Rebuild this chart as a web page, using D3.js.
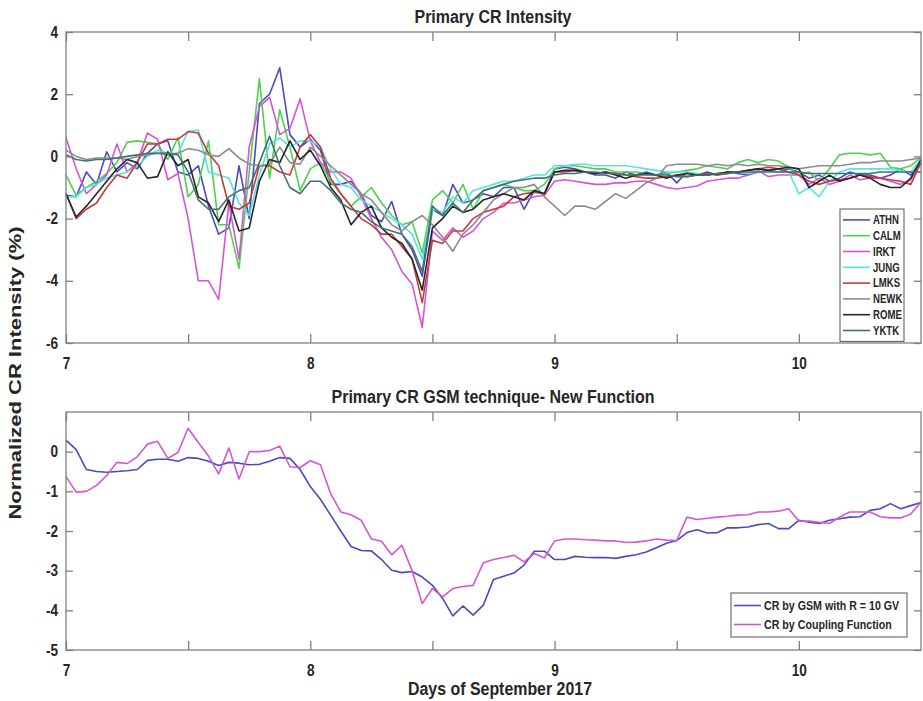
<!DOCTYPE html>
<html>
<head>
<meta charset="utf-8">
<script src="https://d3js.org/d3.v7.min.js"></script>
<style>
  body { margin: 0; background: #fff; }
  text { font-family: "Liberation Sans", Arial, sans-serif; font-weight: bold; fill: #262626; }
</style>
</head>
<body>
<div id="chart"></div>
<script>
// hourly samples, 7 Sep 00 UT to 10 Sep 12 UT
var startDay = 7;
var xTicks = [7, 7.5, 8, 8.5, 9, 9.5, 10];
var xLabels = [7, 8, 9, 10];
var topYTicks = [-6, -4, -2, 0, 2, 4];
var botYTicks = [-5, -4, -3, -2, -1, 0];

var stations = ["ATHN", "CALM", "IRKT", "JUNG", "LMKS", "NEWK", "ROME", "YKTK"];
var stationColors = ["#4b4bbd", "#4fd24f", "#d556d5", "#55e3e3", "#c93a3a", "#8c8c8c", "#262626", "#3f7370"];

var athn = [-1.25, -1.3, -0.5, -0.9, 0.15, -0.5, -0.2, -0.4, 0.1, 0.4, 0.5, -0.5, -0.6,
  -0.3, -1.6, -2.5, -2.3, -0.3, -2.0, 1.7, 2.0, 2.85, 0.7, 0.3, 0.55,
  0.2, -0.9, -0.9, -0.8, -1.2, -1.9, -2.1, -1.45, -2.5, -3.0, -3.85, -1.7,
  -1.9, -0.9, -1.5, -1.4, -1.2, -1.3, -1.0, -1.0, -1.7, -1.1, -1.2, -0.4,
  -0.35, -0.4, -0.5, -0.6, -0.6, -0.7, -0.5, -0.6, -0.5, -0.6, -0.5, -0.85,
  -0.5, -0.6, -0.5, -0.6, -0.5, -0.55, -0.6, -0.5, -0.45, -0.5, -0.4, -0.5,
  -0.7, -0.6, -0.8, -0.7, -0.5, -0.6, -0.6, -0.7, -0.6, -0.4, -0.6, -0.2];
var calm = [-0.6, -1.25, -1.0, -0.8, -0.55, -0.2, 0.45, 0.5, 0.45, 0.4, -0.1, 0.6, -1.3,
  -0.9, 0.5, -2.2, -2.2, -3.6, -0.5, 2.5, -0.7, 1.5, 0.3, -1.1, -0.4,
  -0.2, -0.8, -1.2, -1.6, -1.3, -1.0, -1.5, -1.9, -2.2, -2.1, -3.1, -1.4,
  -1.1, -1.5, -0.9, -1.7, -1.1, -1.0, -0.9, -1.0, -1.1, -1.1, -0.9, -0.4,
  -0.3, -0.3, -0.35, -0.4, -0.4, -0.5, -0.5, -0.5, -0.55, -0.6, -0.55, -0.5,
  -0.45, -0.4, -0.3, -0.35, -0.4, -0.2, -0.1, -0.2, -0.1, -0.15, -0.35, -0.6,
  -0.5, -0.8, -0.4, 0.05, 0.1, 0.1, 0.05, 0.1, -0.35, -0.4, -0.3, -0.05];
var irkt = [0.6, -0.4, -1.2, -0.9, -0.6, 0.4, -0.5, -0.2, 0.75, 0.55, -0.75, -0.55, -2.0,
  -4.0, -4.0, -4.6, -1.5, -3.3, 0.3, 1.6, 1.9, 0.7, 0.9, 1.85, 0.5,
  -0.2, -0.5, -0.5, -0.7, -1.3, -2.0, -2.6, -3.0, -3.7, -4.1, -5.5, -2.4,
  -2.7, -2.3, -2.6, -2.4, -2.0, -1.8, -1.5, -1.5, -1.4, -1.3, -1.25, -0.8,
  -0.75, -0.8, -0.85, -0.9, -0.9, -0.85, -0.85, -0.8, -0.8, -0.9, -1.0, -1.05,
  -1.0, -0.95, -0.8, -0.75, -0.7, -0.7, -0.6, -0.45, -0.65, -0.6, -0.6, -0.6,
  -0.9, -0.7, -0.9, -0.8, -0.6, -0.75, -0.7, -0.7, -0.8, -0.9, -0.75, -0.2];
var jung = [-1.3, -1.3, -1.0, -0.9, -0.7, -0.6, -0.5, -0.3, 0.0, 0.2, 0.1, 0.1, 0.8,
  0.85, -0.5, -0.6, -0.7, -1.5, -1.9, -0.6, 0.4, 0.6, 0.3, 0.5, 0.5,
  0.3, -0.4, -0.9, -1.0, -1.4, -1.6, -1.8, -2.0, -2.2, -2.5, -3.3, -1.7,
  -1.8, -1.3, -1.5, -1.1, -1.0, -0.9, -0.8, -0.8, -0.7, -0.6, -0.6, -0.3,
  -0.3, -0.25, -0.25, -0.3, -0.3, -0.3, -0.3, -0.35, -0.4, -0.45, -0.5, -0.5,
  -0.5, -0.55, -0.6, -0.6, -0.55, -0.5, -0.55, -0.5, -0.45, -0.5, -0.5, -1.2,
  -1.0, -1.3, -0.8, -0.5, -0.4, -0.4, -0.4, -0.4, -0.4, -0.45, -0.5, -0.1];
var lmks = [-1.2, -2.0, -1.7, -1.5, -1.0, -0.6, -0.7, -0.2, 0.4, 0.4, 0.55, 0.55, 0.8,
  0.75, 0.1, -0.3, -1.6, -1.7, -1.5, -0.3, -0.3, -0.5, -0.6, 0.3, 0.7,
  0.3, -0.7, -1.2, -1.6, -2.0, -2.2, -2.5, -2.5, -2.9, -3.3, -4.7, -2.7,
  -2.8, -2.4, -2.4, -2.0, -1.8, -1.7, -1.6, -1.3, -1.2, -1.15, -1.2, -0.5,
  -0.5, -0.45, -0.5, -0.55, -0.5, -0.55, -0.6, -0.65, -0.7, -0.7, -0.65, -0.6,
  -0.65, -0.6, -0.55, -0.6, -0.55, -0.5, -0.45, -0.4, -0.35, -0.4, -0.5, -0.6,
  -0.8, -0.9, -0.8, -0.75, -0.7, -0.6, -0.65, -0.7, -0.75, -0.8, -0.9, -0.2];
var newk = [0.2, 0.0, -0.1, -0.05, -0.05, -0.05, -0.1, 0.0, 0.05, 0.1, 0.05, 0.1, 0.25,
  0.2, 0.05, 0.0, 0.25, -0.05, -0.25, -0.3, -0.25, 0.3, -0.2, -0.25, 0.3,
  0.0, -0.3, -0.6, -0.9, -1.2, -1.4, -1.8, -2.2, -2.4, -2.1, -1.9, -2.2,
  -2.6, -3.05, -2.5, -2.2, -1.8, -1.4, -1.2, -1.0, -1.0, -0.9, -1.3, -1.6,
  -1.9, -1.6, -1.6, -1.7, -1.45, -1.2, -1.35, -1.1, -0.85, -0.7, -0.3, -0.25,
  -0.25, -0.25, -0.3, -0.25, -0.3, -0.25, -0.3, -0.25, -0.3, -0.3, -0.35, -0.4,
  -0.35, -0.3, -0.3, -0.3, -0.25, -0.2, -0.2, -0.15, -0.15, -0.15, -0.1, -0.05];
var rome = [-1.2, -1.95, -1.6, -1.2, -0.8, -0.4, -0.1, -0.2, -0.7, -0.65, 0.15, -0.3, -0.1,
  -1.3, -1.5, -2.1, -1.4, -2.4, -2.3, -0.8, -0.1, -0.2, 0.5, -0.1, 0.2,
  -0.3, -1.0, -1.4, -2.2, -1.8, -1.6, -2.3, -2.6, -2.8, -3.3, -4.3, -2.3,
  -2.0, -1.6, -1.8, -1.7, -1.4, -1.3, -1.2, -1.3, -1.4, -1.1, -1.2, -0.5,
  -0.45, -0.45, -0.5, -0.55, -0.5, -0.6, -0.7, -0.6, -0.55, -0.6, -0.7, -0.6,
  -0.55, -0.6, -0.6, -0.55, -0.5, -0.5, -0.45, -0.4, -0.45, -0.4, -0.35, -0.4,
  -1.0, -0.8, -0.6, -0.8, -0.7, -0.6, -0.7, -0.9, -1.0, -1.0, -0.7, -0.1];
var yktk = [0.05, -0.1, -0.15, -0.1, -0.1, -0.05, 0.0, 0.05, 0.1, 0.1, 0.1, 0.05, -0.5,
  -1.4, -1.7, -1.7, -1.3, -1.1, -1.0, -0.2, 0.65, -0.3, -1.0, -1.2, -0.8,
  -0.8, -1.1, -1.5, -1.7, -1.8, -2.1, -2.3, -2.4, -2.5, -2.9, -3.7, -1.6,
  -1.9, -1.5, -1.8, -1.4, -1.1, -1.0, -0.9, -0.8, -0.75, -0.7, -0.7, -0.6,
  -0.55, -0.55, -0.5, -0.5, -0.55, -0.55, -0.6, -0.6, -0.6, -0.6, -0.6, -0.65,
  -0.65, -0.6, -0.6, -0.55, -0.55, -0.5, -0.5, -0.5, -0.5, -0.5, -0.5, -0.5,
  -0.55, -0.55, -0.55, -0.55, -0.55, -0.55, -0.55, -0.5, -0.5, -0.5, -0.5, -0.5];
var stationValues = [athn, calm, irkt, jung, lmks, newk, rome, yktk];

var gsmNames = ["CR by GSM with R = 10 GV", "CR by Coupling Function"];
var gsmColors = ["#4b4bbd", "#d556d5"];
var gsm = [0.29, 0.05, -0.45, -0.5, -0.52, -0.5, -0.48, -0.45, -0.22, -0.19, -0.19, -0.24, -0.15,
  -0.17, -0.24, -0.35, -0.27, -0.29, -0.33, -0.32, -0.24, -0.15, -0.17, -0.45, -0.88,
  -1.2, -1.6, -2.0, -2.39, -2.49, -2.5, -2.72, -2.99, -3.05, -3.02, -3.16, -3.37,
  -3.7, -4.14, -3.89, -4.12, -3.87, -3.22, -3.14, -3.06, -2.86, -2.51, -2.51, -2.72,
  -2.72, -2.64, -2.66, -2.67, -2.67, -2.69, -2.64, -2.6, -2.53, -2.42, -2.31, -2.24,
  -2.04, -1.97, -2.05, -2.04, -1.92, -1.92, -1.9, -1.84, -1.81, -1.94, -1.94, -1.73,
  -1.78, -1.81, -1.73, -1.69, -1.65, -1.64, -1.48, -1.44, -1.31, -1.44, -1.36, -1.28];
var coupling = [-0.63, -1.02, -1.0, -0.85, -0.6, -0.27, -0.3, -0.13, 0.19, 0.26, -0.17, -0.02, 0.59,
  0.23, -0.11, -0.56, 0.09, -0.69, 0.0, 0.0, 0.03, 0.14, -0.38, -0.4, -0.23,
  -0.33, -1.06, -1.52, -1.59, -1.73, -2.2, -2.26, -2.6, -2.36, -3.0, -3.83, -3.45,
  -3.66, -3.45, -3.4, -3.37, -2.8, -2.72, -2.67, -2.61, -2.78, -2.57, -2.68, -2.25,
  -2.2, -2.2, -2.22, -2.23, -2.25, -2.25, -2.29, -2.28, -2.25, -2.2, -2.23, -2.24,
  -1.65, -1.71, -1.68, -1.65, -1.63, -1.6, -1.59, -1.52, -1.52, -1.5, -1.44, -1.75,
  -1.75, -1.78, -1.81, -1.65, -1.52, -1.52, -1.52, -1.64, -1.67, -1.67, -1.57, -1.27];
var gsmValues = [gsm, coupling];

var w = 923, h = 701;
var left = 66, right = 921;
var axisColor = "#808080";

var svg = d3.select("#chart").append("svg")
    .attr("width", w)
    .attr("height", h);

var x = d3.scaleLinear().domain([7, 10.5]).range([left, right]);

// no narrow font installed, so squeeze bold text horizontally
function squeeze(sel, k, len) {
    sel.each(function () {
        var n = len || this.getComputedTextLength() * k;
        d3.select(this).attr("textLength", n).attr("lengthAdjust", "spacingAndGlyphs");
    });
}

function drawPanel(top, bottom, yDomain, yTicks, values, colors) {
    var y = d3.scaleLinear().domain(yDomain).range([bottom, top]);
    var g = svg.append("g");

    var line = d3.line()
        .x((d, i) => x(startDay + i / 24))
        .y(d => y(d));

    g.selectAll("path.series")
        .data(values)
        .enter()
        .append("path")
        .attr("class", "series")
        .attr("d", d => line(d))
        .attr("fill", "none")
        .attr("stroke", (d, i) => colors[i])
        .attr("stroke-width", 1.6)
        .attr("stroke-linejoin", "round");

    // box
    g.append("rect")
        .attr("x", left).attr("y", top)
        .attr("width", right - left).attr("height", bottom - top)
        .attr("fill", "none")
        .attr("stroke", axisColor)
        .attr("stroke-width", 1.3);

    var fmt = d => String(d);
    var xAxis = d3.axisBottom(x).tickValues(xTicks)
        .tickSizeInner(-9).tickSizeOuter(0).tickPadding(15)
        .tickFormat(d => xLabels.indexOf(d) >= 0 ? fmt(d) : "");
    var xTop = d3.axisTop(x).tickValues(xTicks)
        .tickSizeInner(-9).tickSizeOuter(0).tickFormat("");
    var yAxis = d3.axisLeft(y).tickValues(yTicks)
        .tickSizeInner(-7).tickSizeOuter(0).tickPadding(8).tickFormat(fmt);
    var yRight = d3.axisRight(y).tickValues(yTicks)
        .tickSizeInner(-7).tickSizeOuter(0).tickFormat("");

    [[xAxis, `translate(0,${bottom})`], [xTop, `translate(0,${top})`],
     [yAxis, `translate(${left},0)`], [yRight, `translate(${right},0)`]].forEach(function (a) {
        var ax = g.append("g")
            .attr("transform", a[1])
            .call(a[0])
            .attr("font-family", null);
        ax.select(".domain").remove();
        ax.selectAll("line").attr("stroke", axisColor).attr("stroke-width", 1.3);
        ax.selectAll("text").attr("font-size", "16px");
        squeeze(ax.selectAll("text"), 0.85);
    });
    return y;
}

function drawLegend(x0, y0, bw, rowH, names, colors, fontSize, k) {
    var lg = svg.append("g").attr("transform", `translate(${x0},${y0})`);
    lg.append("rect")
        .attr("width", bw).attr("height", rowH * names.length + 6)
        .attr("fill", "#fff")
        .attr("stroke", "#555")
        .attr("stroke-width", 1);
    var rows = lg.selectAll("g.row")
        .data(names)
        .enter()
        .append("g")
        .attr("transform", (d, i) => `translate(0,${3 + rowH * i + rowH / 2})`);
    rows.append("line")
        .attr("x1", 3).attr("x2", 30)
        .attr("stroke", (d, i) => colors[i])
        .attr("stroke-width", 1.6);
    rows.append("text")
        .attr("transform", `translate(33,0) scale(${k},1)`)
        .attr("dy", "0.35em")
        .attr("font-size", fontSize)
        .text(d => d);
}

// top panel
drawPanel(32, 343, [-6, 4], topYTicks, stationValues, stationColors);
drawLegend(840, 209, 64, 15.8, stations, stationColors, "12px", 0.8);

// bottom panel
drawPanel(412, 650, [-5, 1], botYTicks, gsmValues, gsmColors);
drawLegend(731, 593, 176, 19, gsmNames, gsmColors, "13px", 0.82);

// titles and axis labels
svg.append("text")
    .attr("x", 493).attr("y", 23)
    .attr("text-anchor", "middle")
    .attr("font-size", "18px")
    .text("Primary CR Intensity")
    .call(squeeze, 1, 157);

svg.append("text")
    .attr("x", 493).attr("y", 403)
    .attr("text-anchor", "middle")
    .attr("font-size", "18px")
    .text("Primary CR GSM technique- New Function")
    .call(squeeze, 1, 323);

svg.append("text")
    .attr("x", 500).attr("y", 695)
    .attr("text-anchor", "middle")
    .attr("font-size", "18px")
    .text("Days of September 2017")
    .call(squeeze, 1, 184);

svg.append("text")
    .attr("transform", "rotate(-90)")
    .attr("x", -373).attr("y", 21)
    .attr("text-anchor", "middle")
    .attr("font-size", "17px")
    .text("Normalized CR Intensity (%)")
    .call(squeeze, 1, 293);
</script>
</body>
</html>
